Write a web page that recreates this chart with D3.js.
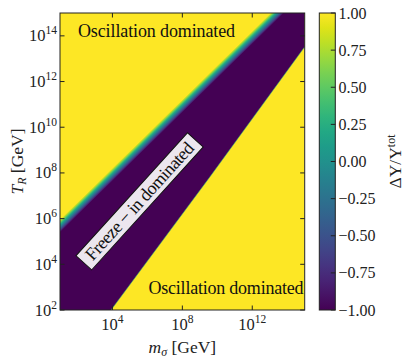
<!DOCTYPE html>
<html>
<head>
<meta charset="utf-8">
<script src="https://cdnjs.cloudflare.com/ajax/libs/d3/7.8.5/d3.min.js"></script>
<style>
body { margin: 0; background: #fff; }
svg { display: block; }
</style>
</head>
<body>
<svg></svg>
<script>
// everything below is log10 of the value
let massRange = [1, 15]
let tempRange = [2, 15]
let massTicks = [4, 8, 12]
let tempTicks = [2, 4, 6, 8, 10, 12, 14]
let barTicks = [1, 0.75, 0.5, 0.25, 0, -0.25, -0.5, -0.75, -1]
// edges of the freeze-in band, [log m, log T]
let upperEdge = [[1, 5.68], [6.6, 9.88], [13.43, 15]]
let lowerEdge = [[3.92, 2], [9.58, 7.83], [15, 13.52]]
let oscValue = 1
let freezeValue = -1

let width = 411
let height = 362
let padLeft = 60, padRight = 304.7, padTop = 13, padBottom = 310
let barLeft = 319.3, barRight = 335.3
let serif = "'Liberation Serif', 'Times New Roman', serif"
let svg = d3.select('svg')
    .attr('width', width).attr('height', height)
    .attr('font-family', serif)

let xScale = d3.scaleLog().domain(massRange.map(v => 10 ** v)).range([padLeft, padRight])
let yScale = d3.scaleLog().domain(tempRange.map(v => 10 ** v)).range([padBottom, padTop])
let colorScale = d3.scaleSequential(d3.interpolateViridis).domain([-1, 1])
let barScale = d3.scaleLinear().domain([-1, 1]).range([padBottom, padTop])

let px = (p) => [xScale(10 ** p[0]), yScale(10 ** p[1])]

let defs = svg.append('defs')
defs.append('clipPath').attr('id', 'plotclip')
    .append('rect')
    .attr('x', padLeft).attr('y', padTop)
    .attr('width', padRight - padLeft).attr('height', padBottom - padTop)

// smooth edge on the upper side of the band
let a = px(upperEdge[0])
let b = px(upperEdge[upperEdge.length - 1])
let len = Math.hypot(b[0] - a[0], b[1] - a[1])
let nx = -(b[1] - a[1]) / len, ny = (b[0] - a[0]) / len
let half = 4.6
let grad = defs.append('linearGradient').attr('id', 'edgegrad')
    .attr('gradientUnits', 'userSpaceOnUse')
    .attr('x1', a[0] - nx * half).attr('y1', a[1] - ny * half)
    .attr('x2', a[0] + nx * half).attr('y2', a[1] + ny * half)
d3.range(0, 11).forEach(i => {
    grad.append('stop').attr('offset', i / 10)
        .attr('stop-color', colorScale(oscValue - (oscValue - freezeValue) * i / 10))
})

let barGrad = defs.append('linearGradient').attr('id', 'bargrad')
    .attr('x1', 0).attr('y1', 1).attr('x2', 0).attr('y2', 0)
d3.range(0, 21).forEach(i => {
    barGrad.append('stop').attr('offset', i / 20)
        .attr('stop-color', d3.interpolateViridis(i / 20))
})

let plot = svg.append('g').attr('clip-path', 'url(#plotclip)')
plot.append('rect')
    .attr('x', padLeft).attr('y', padTop)
    .attr('width', padRight - padLeft).attr('height', padBottom - padTop)
    .attr('fill', colorScale(oscValue))

let bandPts = []
upperEdge.forEach(p => {
    let q = px(p)
    bandPts.push([q[0], q[1] - 16])
})
bandPts.push([xScale(10 ** massRange[1]), yScale(10 ** tempRange[1]) - 20])
lowerEdge.slice().reverse().forEach(p => bandPts.push(px(p)))
bandPts.push(px([massRange[0], tempRange[0]]))
bandPts.push([padLeft - 20, padBottom])
bandPts.push([padLeft - 20, px(upperEdge[0])[1] - 16])

plot.append('path')
    .attr('d', d3.line()(bandPts) + 'Z')
    .attr('fill', 'url(#edgegrad)')

plot.append('path')
    .attr('d', d3.line()(lowerEdge.map(px)))
    .attr('fill', 'none')
    .attr('stroke', colorScale(0.2))
    .attr('stroke-width', 0.8)
    .attr('stroke-opacity', 0.7)

// region labels
svg.append('text')
    .attr('x', 78).attr('y', 36.5)
    .attr('font-size', 18)
    .attr('fill', '#111')
    .attr('textLength', 157)
    .text('Oscillation dominated')
svg.append('text')
    .attr('x', 148.5).attr('y', 293.5)
    .attr('font-size', 18)
    .attr('fill', '#111')
    .attr('textLength', 155)
    .text('Oscillation dominated')

let tag = svg.append('g').attr('transform', 'translate(139.6,201.3) rotate(-47.8)')
tag.append('rect')
    .attr('x', -83).attr('y', -10.6)
    .attr('width', 166).attr('height', 21.2)
    .attr('fill', '#ece6ee')
    .attr('stroke', '#111')
    .attr('stroke-width', 1)
tag.append('text')
    .attr('x', -76)
    .attr('y', 5.8)
    .attr('font-size', 18)
    .attr('fill', '#111')
    .attr('textLength', 152)
    .text('Freeze − in dominated')

// frame and ticks
svg.append('rect')
    .attr('x', padLeft).attr('y', padTop)
    .attr('width', padRight - padLeft).attr('height', padBottom - padTop)
    .attr('fill', 'none').attr('stroke', '#222').attr('stroke-width', 1)

let tickLen = 4.5
massTicks.forEach(t => {
    let x = xScale(10 ** t)
    svg.append('line').attr('x1', x).attr('x2', x).attr('y1', padBottom).attr('y2', padBottom - tickLen).attr('stroke', '#222')
    svg.append('line').attr('x1', x).attr('x2', x).attr('y1', padTop).attr('y2', padTop + tickLen).attr('stroke', '#222')
    let lab = svg.append('text')
        .attr('x', x).attr('y', 330)
        .attr('text-anchor', 'middle')
        .attr('font-size', 16.5)
        .attr('fill', '#222')
    lab.append('tspan').text('10')
    lab.append('tspan').attr('dy', -7).attr('font-size', 11.5).text(t)
})
tempTicks.forEach(t => {
    let y = yScale(10 ** t)
    svg.append('line').attr('x1', padLeft).attr('x2', padLeft + tickLen).attr('y1', y).attr('y2', y).attr('stroke', '#222')
    svg.append('line').attr('x1', padRight).attr('x2', padRight - tickLen).attr('y1', y).attr('y2', y).attr('stroke', '#222')
    let lab = svg.append('text')
        .attr('x', 57).attr('y', y + 5.5)
        .attr('text-anchor', 'end')
        .attr('font-size', 16.5)
        .attr('fill', '#222')
    lab.append('tspan').text('10')
    lab.append('tspan').attr('dy', -7).attr('font-size', 11.5).text(t)
})

// axis titles
let xTitle = svg.append('text')
    .attr('x', (padLeft + padRight) / 2).attr('y', 353)
    .attr('text-anchor', 'middle')
    .attr('font-size', 17.5)
    .attr('fill', '#222')
xTitle.append('tspan').attr('font-style', 'italic').text('m')
xTitle.append('tspan').attr('font-style', 'italic').attr('font-size', 12).attr('dy', 3).text('σ')
xTitle.append('tspan').attr('dy', -3).text(' [GeV]')

let yTitle = svg.append('text')
    .attr('transform', 'translate(23,' + (padTop + padBottom) / 2 + ') rotate(-90)')
    .attr('text-anchor', 'middle')
    .attr('font-size', 17.5)
    .attr('fill', '#222')
yTitle.append('tspan').attr('font-style', 'italic').text('T')
yTitle.append('tspan').attr('font-style', 'italic').attr('font-size', 12).attr('dy', 3).text('R')
yTitle.append('tspan').attr('dy', -3).text(' [GeV]')

// colour bar
svg.append('rect')
    .attr('x', barLeft).attr('y', padTop)
    .attr('width', barRight - barLeft).attr('height', padBottom - padTop)
    .attr('fill', 'url(#bargrad)')
    .attr('stroke', '#222').attr('stroke-width', 1)
barTicks.forEach(t => {
    let y = barScale(t)
    svg.append('line').attr('x1', barRight).attr('x2', barRight - tickLen).attr('y1', y).attr('y2', y).attr('stroke', '#222')
    svg.append('text')
        .attr('x', 338.5).attr('y', y + 5.5)
        .attr('font-size', 16)
        .attr('fill', '#222')
        .text(d3.format('.2f')(t).replace('-', '−'))
})
let barTitle = svg.append('text')
    .attr('transform', 'translate(401,' + (padTop + padBottom) / 2 + ') rotate(-90)')
    .attr('text-anchor', 'middle')
    .attr('font-size', 17.5)
    .attr('fill', '#222')
barTitle.append('tspan').text('ΔY/Y')
barTitle.append('tspan').attr('font-size', 12).attr('dy', -6.5).text('tot')
</script>
</body>
</html>
